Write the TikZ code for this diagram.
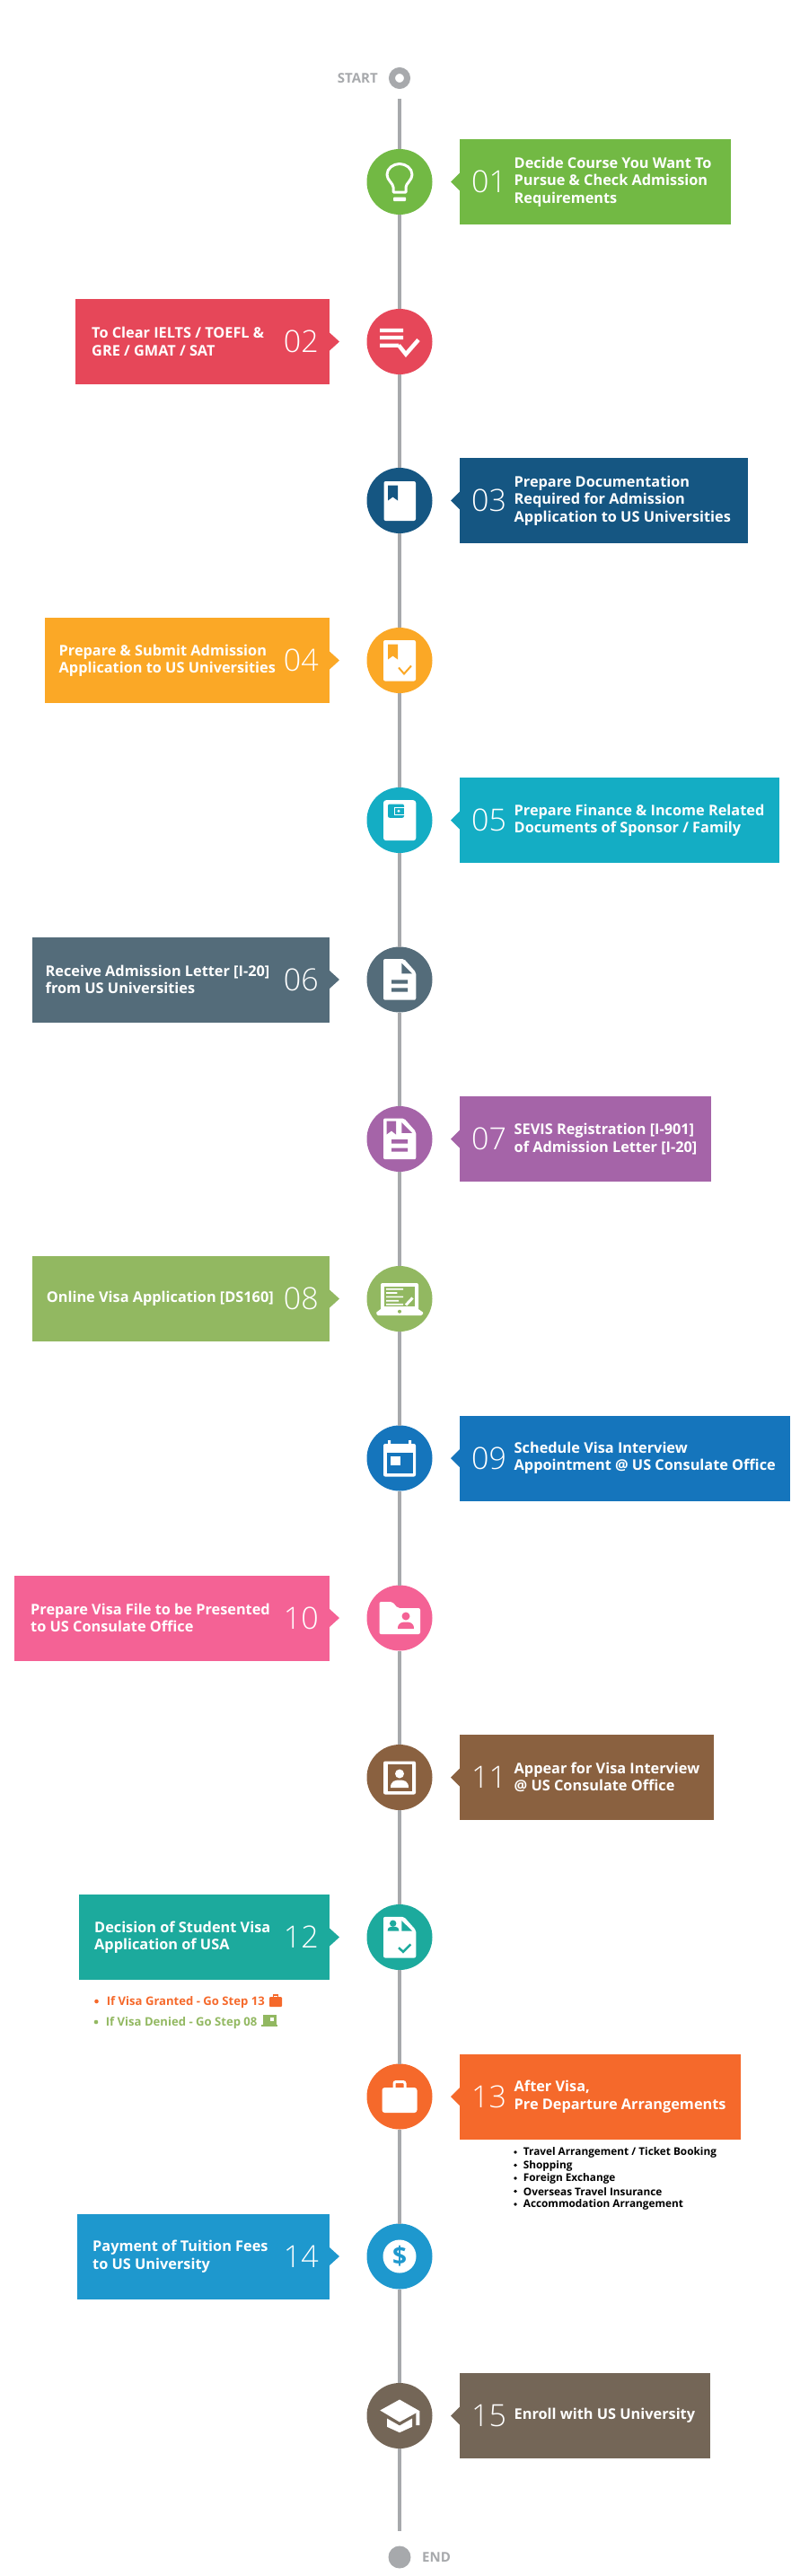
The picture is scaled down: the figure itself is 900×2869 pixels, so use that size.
\documentclass[tikz,border=0pt]{standalone}
\usepackage{fontspec}
\setmainfont{Open Sans}
\newfontfamily\numfont{Open Sans Light}
\usetikzlibrary{calc}
\definecolor{cA}{HTML}{72B944}\definecolor{cB}{HTML}{E64759}\definecolor{cC}{HTML}{155682}
\definecolor{cD}{HTML}{FBA826}\definecolor{cE}{HTML}{14ADC4}\definecolor{cF}{HTML}{546C7A}
\definecolor{cG}{HTML}{A564A8}\definecolor{cH}{HTML}{92B861}\definecolor{cI}{HTML}{1575BC}
\definecolor{cJ}{HTML}{F46295}\definecolor{cK}{HTML}{8A6140}\definecolor{cL}{HTML}{1CAA9D}
\definecolor{cM}{HTML}{F5692B}\definecolor{cN}{HTML}{1E98CE}\definecolor{cO}{HTML}{746657}
\definecolor{spinegrey}{HTML}{A7A9AC}
\tikzset{
 x=1pt,y=-1pt,
 stepbox/.style={rectangle,inner sep=0pt,minimum height=95pt,outer sep=0pt},
 stepdot/.style={circle,inner sep=0pt,minimum size=73pt,outer sep=0pt},
 steptext/.style={inner sep=0pt,text=white,align=left,font=\fontsize{16.3}{19.4}\selectfont\bfseries},
 stepnum/.style={inner sep=0pt,text=white,font=\fontsize{34}{34}\numfont},
 spine/.style={draw=spinegrey,line width=4.5pt},
 endlabel/.style={inner sep=0pt,text=spinegrey,font=\fontsize{15}{15}\selectfont\bfseries},
 subnote/.style={inner sep=0pt,anchor=west,font=\fontsize{13.1}{13.1}\selectfont\bfseries},
 sublist/.style={inner sep=0pt,anchor=west,text=black,font=\fontsize{11.8}{11.8}\selectfont\bfseries},
}
% #1 name, #2 colour, #3 y centre, #4 right edge, #5 number, #6 text
\newcommand{\rightstep}[6]{%
 \node[stepdot,fill=#2] (c#1) at (445,#3) {};
 \node[stepbox,fill=#2,anchor=west,minimum width=#4pt-512pt] (b#1) at (512,#3) {};
 \fill[#2] ($(b#1.west)+(0,-10)$) -- ($(b#1.west)+(-10,0)$) -- ($(b#1.west)+(0,10)$) -- cycle;
 \node[stepnum,anchor=west] (n#1) at (525,#3) {#5};
 \node[steptext,anchor=west] (t#1) at (572.5,#3) {#6};
}
% #1 name, #2 colour, #3 y centre, #4 left edge, #5 text x, #6 number, #7 text
\newcommand{\leftstep}[7]{%
 \node[stepdot,fill=#2] (c#1) at (445,#3) {};
 \node[stepbox,fill=#2,anchor=east,minimum width=367pt-#4pt] (b#1) at (367,#3) {};
 \fill[#2] ($(b#1.east)+(0,-10)$) -- ($(b#1.east)+(11,0)$) -- ($(b#1.east)+(0,10)$) -- cycle;
 \node[stepnum,anchor=east] (n#1) at (355,#3) {#6};
 \node[steptext,anchor=west] (t#1) at (#5,#3) {#7};
}
\begin{document}
\begin{tikzpicture}
\useasboundingbox (0,0) rectangle (900,2869);
% start / end
\node[circle,draw=spinegrey,line width=7pt,minimum size=17pt,inner sep=0pt] (start) at (445,87) {};
\node[endlabel,anchor=east] (startl) at (421,87) {START};
\node[circle,fill=spinegrey,minimum size=25pt,inner sep=0pt] (fin) at (445,2848) {};
\node[endlabel,anchor=west] (finl) at (470,2848) {END};
\coordinate (spinetop) at (445,110);
\coordinate (spinebot) at (445,2819);
% steps
\rightstep{1}{cA}{202.5}{814}{01}{Decide Course You Want To\\Pursue \& Check Admission\\Requirements}
\leftstep{2}{cB}{380.5}{84}{102}{02}{To Clear IELTS / TOEFL \&\\GRE / GMAT / SAT}
\rightstep{3}{cC}{557.5}{832.6}{03}{Prepare Documentation\\Required for Admission\\Application to US Universities}
\leftstep{4}{cD}{735.5}{50}{65.5}{04}{Prepare \& Submit Admission\\Application to US Universities}
\rightstep{5}{cE}{913.5}{867.6}{05}{Prepare Finance \& Income Related\\Documents of Sponsor / Family}
\leftstep{6}{cF}{1091}{36}{50.5}{06}{Receive Admission Letter [I-20]\\from US Universities}
\rightstep{7}{cG}{1268.5}{792.4}{07}{SEVIS Registration [I-901]\\of Admission Letter [I-20]}
\leftstep{8}{cH}{1446.5}{36}{51.7}{08}{Online Visa Application [DS160]}
\rightstep{9}{cI}{1624}{880}{09}{Schedule Visa Interview\\Appointment @ US Consulate Office}
\leftstep{10}{cJ}{1802}{16}{34}{10}{Prepare Visa File to be Presented\\to US Consulate Office}
\rightstep{11}{cK}{1979.5}{795}{11}{Appear for Visa Interview\\@ US Consulate Office}
\leftstep{12}{cL}{2157.5}{88}{105}{12}{Decision of Student Visa\\Application of USA}
\rightstep{13}{cM}{2335}{825}{13}{After Visa,\\Pre Departure Arrangements}
\leftstep{14}{cN}{2513}{86}{103}{14}{Payment of Tuition Fees\\to US University}
\rightstep{15}{cO}{2690.5}{790.5}{15}{Enroll with US University}
% spine
\draw[spine] (spinetop) -- (c1);
\foreach \a/\b in {1/2,2/3,3/4,4/5,5/6,6/7,7/8,8/9,9/10,10/11,11/12,12/13,13/14,14/15} \draw[spine] (c\a) -- (c\b);
\draw[spine] (c15) -- (spinebot);
% icon 1 bulb
\begin{scope}[shift={(c1.center)}]
 \draw[white,line width=3pt,line join=round] (-7,11.5) -- (-7,6) .. controls (-7,2) and (-14,-2) .. (-14,-8) .. controls (-14,-15) and (-7,-20) .. (0,-20) .. controls (7,-20) and (14,-15) .. (14,-8) .. controls (14,-2) and (7,2) .. (7,6) -- (7,11.5) -- cycle;
 \fill[white,rounded corners=1pt] (-7,17) rectangle (7,21.7);
\end{scope}
% icon 2 list check
\begin{scope}[shift={(c2.center)}]
 \fill[white] (-22,-14.7) rectangle (4,-10.3) (-22,-6.7) rectangle (4,-2.3) (-22,2) rectangle (-1,6.3);
 \draw[white,line width=4.5pt] (-1,4) -- (7,14) -- (21,-2);
\end{scope}
% icon 3 book
\begin{scope}[shift={(c3.center)}]
 \fill[white,rounded corners=2pt] (-17.5,-21.5) rectangle (18,22.5);
 \fill[cC] (-13,-17) -- (-2,-17) -- (-2,0) -- (-7.5,-4) -- (-13,0) -- cycle;
\end{scope}
% icon 4 book check
\begin{scope}[shift={(c4.center)}]
 \fill[white,rounded corners=2pt] (-18,-22.5) rectangle (18,23);
 \fill[cD] (-13,-18) -- (-2,-18) -- (-2,-1) -- (-7.5,-5) -- (-13,-1) -- cycle;
 \draw[cD,line width=2pt] (-1,8) -- (5,15) -- (13,6);
\end{scope}
% icon 5 wallet
\begin{scope}[shift={(c5.center)}]
 \fill[white,rounded corners=3pt] (-18,-22.3) rectangle (18.3,22.7);
 \fill[cE,rounded corners=2pt] (-13,-18) rectangle (5,-2.7);
 \draw[white,line width=1pt] (-5.5,-13.8) rectangle (5,-6.5);
 \fill[white] (-1,-10.2) circle (1.6);
\end{scope}
% icon 6 document
\begin{scope}[shift={(c6.center)}]
 \fill[white,rounded corners=2pt] (-18,-23) -- (5,-23) -- (18.3,-8) -- (18.3,22.7) -- (-18,22.7) -- cycle;
 \fill[cF] (2.3,-18.3) -- (14,-6.7) -- (2.3,-6.7) -- cycle;
 \fill[cF] (-9,0.3) rectangle (9,4.7) (-9,9.3) rectangle (9,13.7);
\end{scope}
% icon 7 document bookmark
\begin{scope}[shift={(c7.center)}]
 \fill[white,rounded corners=2pt] (-18,-23) -- (5,-23) -- (18.3,-8) -- (18.3,22.7) -- (-18,22.7) -- cycle;
 \fill[cG] (2.3,-18.3) -- (14,-6.7) -- (2.3,-6.7) -- cycle;
 \fill[cG] (-14.5,-20) -- (-4,-20) -- (-4,-5) -- (-9,-9) -- (-14.5,-5) -- cycle;
 \fill[cG] (-9,0.5) rectangle (9,5) (-9,10) rectangle (9,14);
\end{scope}
% icon 8 laptop
\begin{scope}[shift={(c8.center)}]
 \fill[white,rounded corners=2pt] (-21,-17.5) rectangle (21,13);
 \fill[cH] (-16.7,-14) rectangle (16.7,8.5);
 \fill[white] (-15,-11.6) rectangle (4,-10) (-15,-7.3) rectangle (-2.7,-5.7) (-15,-3) rectangle (4,-1.4) (-15,1.4) rectangle (-1,3) (-15,5.4) rectangle (4,7);
 \draw[white,line width=3pt] (7,7) -- (14.5,-1);
 \fill[white] (-25.7,15) -- (-21,11.5) -- (21,11.5) -- (26,15) -- (26,17) -- (24,18.5) -- (-24,18.5) -- (-25.7,17) -- cycle;
 \fill[cH] (0,14.2) circle (2);
\end{scope}
% icon 9 calendar
\begin{scope}[shift={(c9.center)}]
 \fill[white,rounded corners=2pt] (-18,-16) rectangle (18,20.5);
 \fill[white] (-13,-20) rectangle (-10,-15) (10,-20) rectangle (13,-15);
 \fill[cI] (-14,-6) rectangle (15,17);
 \fill[white] (-10,-2) rectangle (1,8);
\end{scope}
% icon 10 folder
\begin{scope}[shift={(c10.center)}]
 \fill[white,rounded corners=2pt] (-22.5,-18) -- (-8,-18) -- (-2,-11) -- (23,-11) -- (23,18) -- (-22.5,18) -- cycle;
 \fill[cJ] (7,-2) circle (4.5);
 \fill[cJ] (-2,12) .. controls (-2,5) and (3,4.5) .. (7,4.5) .. controls (11,4.5) and (16,5) .. (16,12) -- cycle;
\end{scope}
% icon 11 portrait
\begin{scope}[shift={(c11.center)}]
 \fill[white,rounded corners=2pt] (-18,-18) rectangle (18,19);
 \fill[cK] (-13.5,-14.5) rectangle (14,15);
 \fill[white] (0,-4) circle (5);
 \fill[white] (-10,11.5) .. controls (-10,4) and (-5,3) .. (0,3) .. controls (5,3) and (10,4) .. (10,11.5) -- cycle;
\end{scope}
% icon 12 visa doc
\begin{scope}[shift={(c12.center)}]
 \fill[white,rounded corners=2pt] (-18,-22.7) -- (5,-22.7) -- (18.3,-7.7) -- (18.3,23) -- (-18,23) -- cycle;
 \fill[cL] (-7.3,-15.3) circle (3.7);
 \fill[cL] (-13.3,-7) .. controls (-13.3,-11) and (-11,-11.7) .. (-7,-11.7) .. controls (-3,-11.7) and (-0.7,-11) .. (-0.7,-7) -- cycle;
 \fill[cL] (2.3,-18.3) -- (14,-7) -- (2.3,-7) -- cycle;
 \draw[cL,line width=2.5pt] (-1,11.7) -- (4,16.3) -- (12.3,8);
\end{scope}
% icon 13 bag
\begin{scope}[shift={(c13.center)}]
 \fill[white,rounded corners=3pt] (-19.5,-10) rectangle (19.5,18);
 \draw[white,line width=3pt,rounded corners=2pt] (-6,-9) -- (-6,-16.5) -- (6,-16.5) -- (6,-9);
\end{scope}
% icon 14 dollar
\begin{scope}[shift={(c14.center)}]
 \node[circle,fill=white,minimum size=37pt,inner sep=0pt] (d14) at (0,0) {};
 \node[inner sep=0pt,text=cN,font=\fontsize{28}{28}\selectfont\bfseries] (dl14) at (d14.center) {\$};
\end{scope}
% icon 15 cap
\begin{scope}[shift={(c15.center)}]
 \fill[white] (-21.7,-6) -- (0,-18) -- (22.3,-5.3) -- (0,7) -- cycle;
 \fill[white] (-14,3) -- (0,11) -- (14,3) -- (14,12.3) -- (0,18.7) -- (-14,12.3) -- cycle;
 \fill[white] (18.3,-3.5) -- (22.3,-5.3) -- (22.3,10.7) -- (18.3,10.7) -- cycle;
\end{scope}
% notes under step 12
\fill[cM] (107.5,2229) circle (2.3);
\node[subnote,text=cM] (g1) at (118.7,2230) {If Visa Granted - Go Step 13};
\fill[cM,rounded corners=1pt] (300,2224) rectangle (314,2235);
\draw[cM,line width=1.2pt] (304.5,2225) -- (304.5,2222) -- (309.5,2222) -- (309.5,2225);
\fill[cH] (107,2252) circle (2.3);
\node[subnote,text=cH] (g2) at (117.7,2253) {If Visa Denied - Go Step 08};
\fill[cH] (293,2244) rectangle (308,2255);
\fill[white] (301,2247) rectangle (305,2251);
\fill[cH] (291,2254.5) rectangle (309,2257);
% list under step 13
\foreach \yy/\tx/\nm in {2397/{Travel Arrangement / Ticket Booking}/a,2411.5/{Shopping}/b,2426/{Foreign Exchange}/c,2440.5/{Overseas Travel Insurance}/d,2455/{Accommodation Arrangement}/e}{
 \fill[black] (574,\yy) circle (1.9);
 \node[sublist] (l\nm) at (582.7,\yy+0.7) {\tx};
}
\end{tikzpicture}
\end{document}
